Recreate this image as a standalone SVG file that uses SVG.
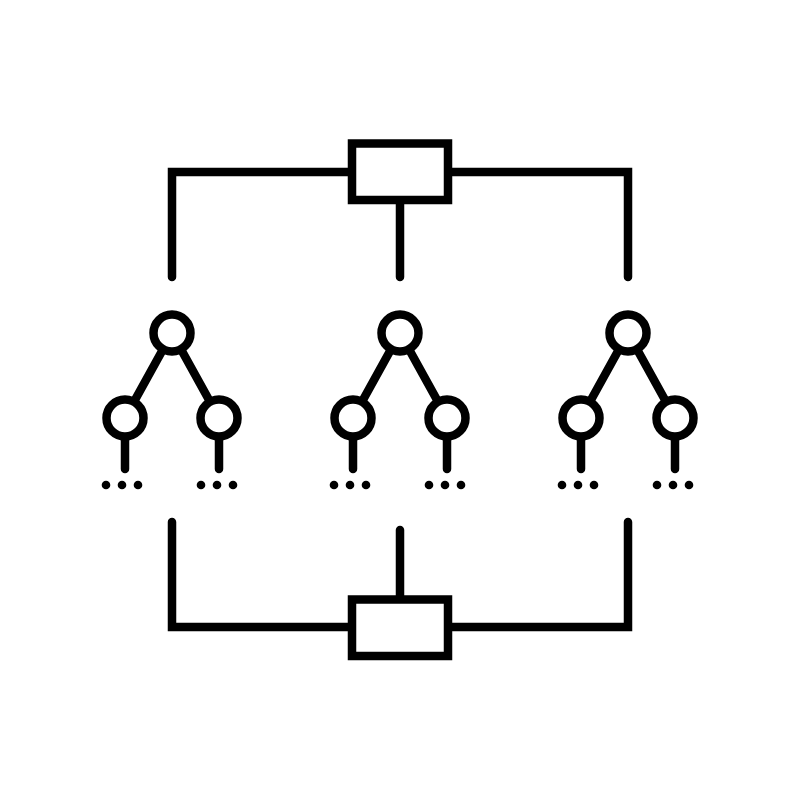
<svg xmlns="http://www.w3.org/2000/svg" width="800" height="800" viewBox="0 0 800 800">
<style>
.ln{fill:none;stroke:#000;stroke-width:8.5;stroke-linecap:round;stroke-linejoin:miter}
.bx{fill:#fff;stroke:#000;stroke-width:8.5}
.nd{fill:#fff;stroke:#000;stroke-width:8.5}
.dt{fill:#000}
</style>
<defs>
<g id="tree">
<line class="ln" x1="0" y1="0" x2="-47" y2="85"/>
<line class="ln" x1="0" y1="0" x2="47" y2="85"/>
<line class="ln" x1="-47" y1="85" x2="-47" y2="136"/>
<line class="ln" x1="47" y1="85" x2="47" y2="136"/>
<circle class="nd" cx="0" cy="0" r="18.5"/>
<circle class="nd" cx="-47" cy="85" r="18.5"/>
<circle class="nd" cx="47" cy="85" r="18.5"/>
<circle class="dt" cx="-66" cy="152" r="4.3"/>
<circle class="dt" cx="-50" cy="152" r="4.3"/>
<circle class="dt" cx="-34" cy="152" r="4.3"/>
<circle class="dt" cx="29" cy="152" r="4.3"/>
<circle class="dt" cx="45" cy="152" r="4.3"/>
<circle class="dt" cx="61" cy="152" r="4.3"/>
</g>
</defs>
<rect width="800" height="800" fill="#fff"/>
<g id="connectors">
<polyline class="ln" points="172,277 172,172 628,172 628,277"/>
<line class="ln" x1="400" y1="200" x2="400" y2="277"/>
<polyline class="ln" points="172,522 172,627 628,627 628,522"/>
<line class="ln" x1="400" y1="530" x2="400" y2="600"/>
</g>
<g id="top-box"><rect class="bx" x="352" y="143.5" width="96" height="56.5"/></g>
<g id="bottom-box"><rect class="bx" x="352" y="599.5" width="96" height="56.5"/></g>
<g id="tree-left"><use href="#tree" x="172" y="333"/></g>
<g id="tree-middle"><use href="#tree" x="400" y="333"/></g>
<g id="tree-right"><use href="#tree" x="628" y="333"/></g>
</svg>
